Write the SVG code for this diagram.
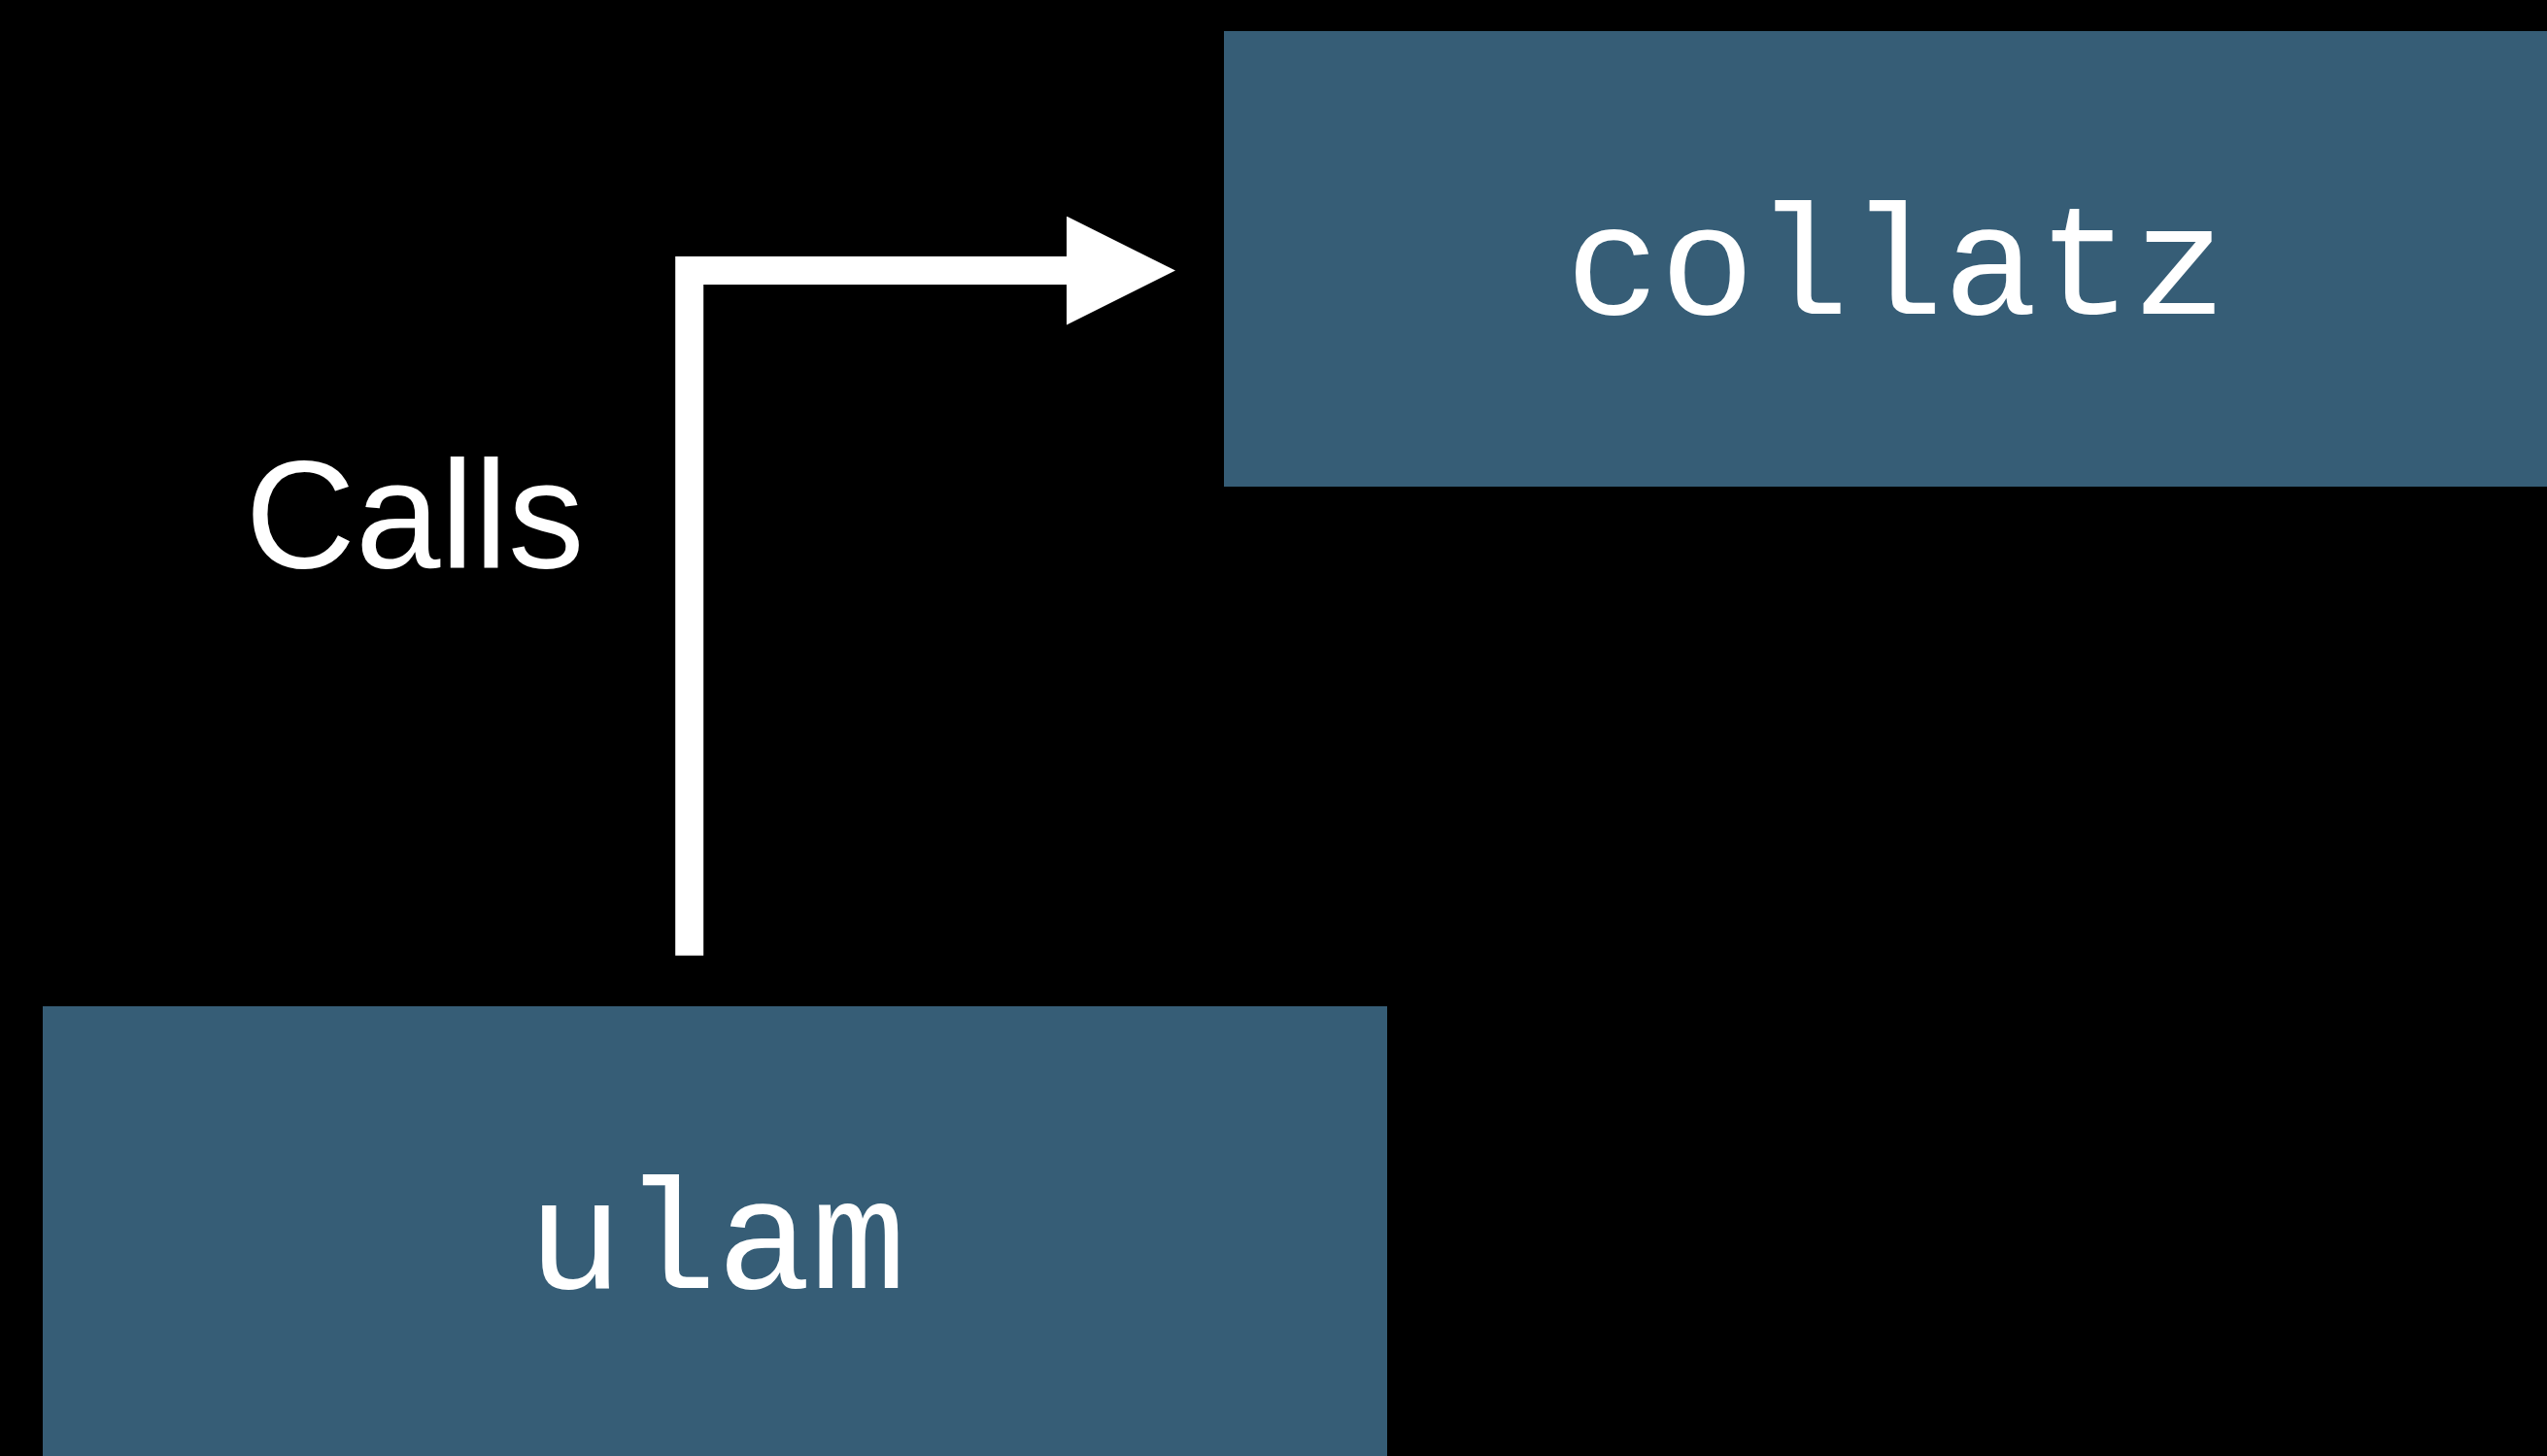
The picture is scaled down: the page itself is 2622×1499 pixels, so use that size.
<svg xmlns="http://www.w3.org/2000/svg" width="2622" height="1499" viewBox="0 0 2622 1499">
  <style>
    .box { fill: #365d76; }
    .mono { font-family: "Liberation Mono", "DejaVu Sans Mono", monospace; font-size: 162px; fill: #ffffff; text-anchor: middle; }
    .label { font-family: "Liberation Sans", Arial, sans-serif; font-size: 157px; fill: #ffffff; text-anchor: middle; }
    .conn { fill: none; stroke: #ffffff; stroke-width: 29; stroke-linejoin: miter; stroke-linecap: butt; }
  </style>
  <defs>
    <marker id="arrow" markerUnits="userSpaceOnUse" viewBox="0 0 112 112" refX="0" refY="56" markerWidth="112" markerHeight="112" orient="auto">
      <polygon points="0,0 112,56 0,112" fill="#ffffff"/>
    </marker>
  </defs>
  <rect x="0" y="0" width="2622" height="1499" fill="#000000"/>
  <g id="node-collatz">
    <rect class="box" x="1260" y="32" width="1362" height="469"/>
    <text class="mono" x="1952" y="323">collatz</text>
  </g>
  <g id="node-ulam">
    <rect class="box" x="44" y="1036" width="1384" height="463"/>
    <text class="mono" x="738" y="1326">ulam</text>
  </g>
  <g id="connectors">
    <path class="conn" d="M709.7 983.7 V278.6 H1098" marker-end="url(#arrow)"/>
    <text class="label" x="427" y="584">Calls</text>
  </g>
</svg>
